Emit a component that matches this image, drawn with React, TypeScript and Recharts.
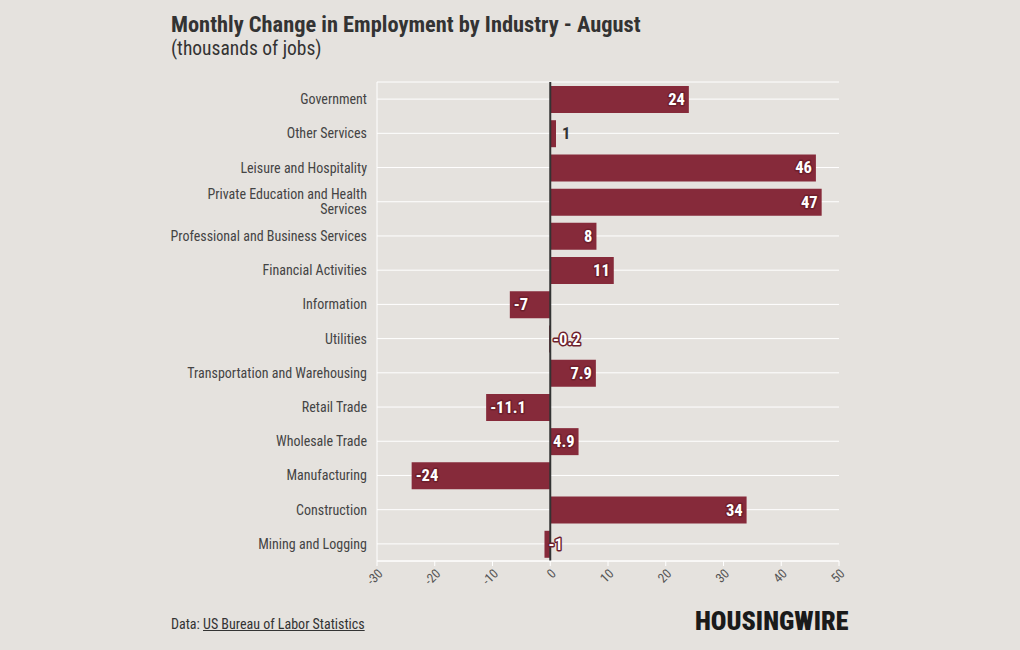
import { BarChart, Bar, XAxis, YAxis, CartesianGrid, ReferenceLine, LabelList } from 'recharts';

const industries = [
  'Government',
  'Other Services',
  'Leisure and Hospitality',
  'Private Education and Health Services',
  'Professional and Business Services',
  'Financial Activities',
  'Information',
  'Utilities',
  'Transportation and Warehousing',
  'Retail Trade',
  'Wholesale Trade',
  'Manufacturing',
  'Construction',
  'Mining and Logging',
];
const changes = [24, 1, 46, 47, 8, 11, -7, -0.2, 7.9, -11.1, 4.9, -24, 34, -1];
const xTicks = [-30, -20, -10, 0, 10, 20, 30, 40, 50];

const data = industries.map((name, i) => ({ name, value: changes[i] }));

const FONT = '"Roboto Condensed", "Liberation Sans Narrow", "DejaVu Sans Condensed", Roboto, sans-serif';
const BAR = '#862a3a';
const BG = '#e5e2de';

function IndustryTick(props: any) {
  const { x, y, payload } = props;
  const label: string = payload.value;
  let lines = [label];
  if (label.length > 35) {
    const words = label.split(' ');
    lines = [words.slice(0, -1).join(' '), words[words.length - 1]];
  }
  const lh = 15;
  const start = y - ((lines.length - 1) * lh) / 2;
  return (
    <text x={x} y={start} textAnchor="end" dominantBaseline="central" fill="#444" fontSize={14} fontFamily={FONT}>
      {lines.map((l, i) => (
        <tspan key={i} x={x} y={start + i * lh}>
          {l}
        </tspan>
      ))}
    </text>
  );
}

function ValueLabel(props: any) {
  const { x, y, width, height, value } = props;
  const left = Math.min(x, x + width);
  const right = Math.max(x, x + width);
  const cy = y + height / 2;
  const common = { fontSize: 16.5, fontWeight: 700, fontFamily: FONT, dominantBaseline: 'central' as const };
  if (value >= 0 && right - left < 20) {
    return (
      <text x={right + 6} y={cy} textAnchor="start" fill="#333" {...common}>
        {value}
      </text>
    );
  }
  const neg = value < 0;
  return (
    <text
      x={neg ? left + 4 : right - 4}
      y={cy}
      textAnchor={neg ? 'start' : 'end'}
      fill="#fff"
      stroke="#6e1f2c"
      strokeWidth={3}
      paintOrder="stroke"
      strokeLinejoin="round"
      {...common}
    >
      {value}
    </text>
  );
}

export default function App() {
  return (
    <div style={{ position: 'absolute', left: 0, top: 0, width: 1020, height: 650, background: BG, fontFamily: FONT, overflow: 'hidden' }}>
      <div style={{ position: 'absolute', left: 171, top: 11, fontSize: 22.4, fontWeight: 700, color: '#333' }}>
        Monthly Change in Employment by Industry - August
      </div>
      <div style={{ position: 'absolute', left: 171, top: 37, fontSize: 19.5, color: '#333' }}>(thousands of jobs)</div>

      <div style={{ position: 'absolute', left: 0, top: 0 }}>
        <BarChart width={1020} height={650} data={data} layout="vertical" margin={{ top: 82, right: 181, bottom: 59, left: 0 }} barSize={27}>
          <CartesianGrid vertical={false} horizontal={true} stroke="#fff" strokeWidth={1} />
          <XAxis
            type="number"
            domain={[-30, 50]}
            ticks={xTicks}
            height={30}
            axisLine={{ stroke: '#fff' }}
            tickLine={{ stroke: '#fff' }}
            tickSize={5}
            angle={-45}
            textAnchor="end"
            tick={{ fontSize: 13, fill: '#555', fontFamily: FONT }}
          />
          <YAxis
            type="category"
            dataKey="name"
            width={377}
            axisLine={{ stroke: '#fff' }}
            tickLine={false}
            tickMargin={4}
            tick={<IndustryTick />}
            interval={0}
          />
          <Bar dataKey="value" fill={BAR} isAnimationActive={false}>
            <LabelList dataKey="value" content={<ValueLabel />} />
          </Bar>
          <ReferenceLine x={0} stroke="#333" strokeWidth={2} />
        </BarChart>
      </div>

      <div style={{ position: 'absolute', left: 171, top: 616, fontSize: 14, color: '#333' }}>
        Data: <span style={{ textDecoration: 'underline' }}>US Bureau of Labor Statistics</span>
      </div>
      <div style={{ position: 'absolute', left: 695, top: 606, fontSize: 26, fontWeight: 900, color: '#1a1a1a', letterSpacing: 0 }}>
        HOUSINGWIRE
      </div>
    </div>
  );
}
